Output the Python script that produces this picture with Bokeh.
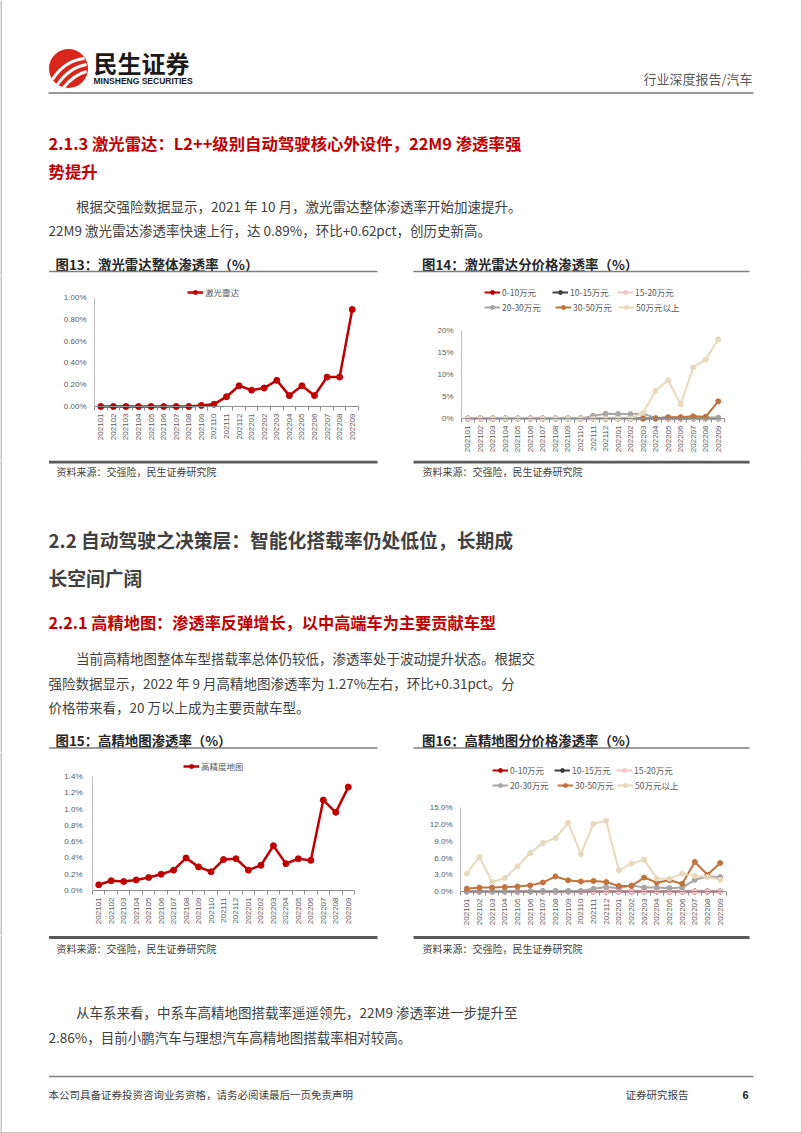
from math import pi
from bokeh.plotting import figure
from bokeh.models import Range1d, FixedTicker, PrintfTickFormatter, Span, Legend, LegendItem, Spacer
from bokeh.layouts import column, row
from bokeh.core.properties import value
from bokeh.embed import file_html
from bokeh.resources import INLINE

CJK = "Noto Sans CJK SC"
NUM = "Liberation Sans"
BORDER = "#8c8c8c"
PAGE_W = 802

# ---------------- data ----------------
months = ["202101", "202102", "202103", "202104", "202105", "202106", "202107",
          "202108", "202109", "202110", "202111", "202112", "202201", "202202",
          "202203", "202204", "202205", "202206", "202207", "202208", "202209"]

# Fig 13: lidar overall penetration (%)
lidar_total = [0, 0, 0, 0, 0, 0, 0, 0, 0.01, 0.02, 0.09, 0.19, 0.15, 0.17,
               0.24, 0.10, 0.19, 0.10, 0.27, 0.27, 0.89]

# Fig 14: lidar penetration by price band (%)
band_labels = ["0-10万元", "10-15万元", "15-20万元", "20-30万元", "30-50万元", "50万元以上"]
band_colors = ["#c00000", "#404040", "#f2c6c6", "#a6a6a6", "#c0733c", "#e8d9bc"]
lidar_0_10 = [0, 0, 0, 0, 0, 0, 0, 0, 0, 0, 0, 0, 0, 0, 0, 0, 0, 0, 0, 0, 0]
lidar_10_15 = [0, 0, 0, 0, 0, 0, 0, 0, 0, 0, 0, 0, 0, 0, 0, 0, 0, 0, 0, 0, 0]
lidar_15_20 = [0, 0, 0, 0, 0, 0, 0, 0, 0, 0, 0, 0, 0, 0, 0, 0, 0, 0, 0, 0, 0]
lidar_20_30 = [0, 0, 0, 0, 0, 0, 0, 0, 0, 0, 0.6, 1.1, 1.0, 1.0, 1.1, 0.1, 0.2, 0.2, 0.3, 0.2, 0.2]
lidar_30_50 = [0, 0, 0, 0, 0, 0, 0, 0, 0, 0, 0, 0, 0, 0, 0, 0, 0.3, 0.3, 0.5, 0.4, 3.9]
lidar_50_up = [0, 0, 0, 0, 0, 0, 0, 0, 0, 0, 0, 0, 0, 0, 1.3, 6.3, 8.7, 3.2, 11.6, 13.4, 18.0]

# Fig 15: HD map overall penetration (%)
hdmap_total = [0.07, 0.12, 0.11, 0.13, 0.16, 0.20, 0.25, 0.40, 0.29, 0.23, 0.38,
               0.39, 0.25, 0.31, 0.55, 0.33, 0.39, 0.37, 1.11, 0.96, 1.27]

# Fig 16: HD map penetration by price band (%)
hdmap_0_10 = [0, 0, 0, 0, 0, 0, 0, 0, 0, 0, 0, 0, 0, 0, 0, 0, 0, 0, 0, 0, 0]
hdmap_10_15 = [0, 0, 0, 0, 0, 0, 0, 0, 0, 0, 0, 0, 0, 0, 0, 0, 0, 0, 0, 0, 0]
hdmap_15_20 = [0, 0, 0, 0, 0, 0, 0, 0, 0, 0, 0, 0, 0, 0, 0, 0, 0, 0, 0, 0, 0]
hdmap_20_30 = [0, 0, 0, 0, 0, 0, 0.1, 0.1, 0.1, 0.1, 0.5, 0.8, 0.6, 1.1, 0.7, 0.7,
               0.6, 0.7, 2.1, 2.7, 2.6]
hdmap_30_50 = [0.5, 0.7, 0.7, 0.8, 0.9, 1.1, 1.6, 2.7, 2.0, 1.8, 1.9, 1.7, 1.0, 1.0,
               2.5, 1.6, 2.0, 1.4, 5.3, 3.0, 5.1]
hdmap_50_up = [3.2, 6.2, 1.7, 2.4, 4.5, 6.9, 8.7, 9.6, 12.3, 6.7, 12.1, 12.7, 3.8, 5.0,
               5.7, 2.3, 2.3, 3.2, 2.8, 2.6, 2.1]

lidar_ticks = [0, 0.2, 0.4, 0.6, 0.8, 1.0]
lidar_band_ticks = [0, 5, 10, 15, 20]
hdmap_ticks = [0, 0.2, 0.4, 0.6, 0.8, 1.0, 1.2, 1.4]
hdmap_band_ticks = [0, 3, 6, 9, 12, 15]


# ---------------- helpers ----------------
def text_fig(y0, y1):
    p = figure(width=PAGE_W, height=y1 - y0, x_range=Range1d(0, PAGE_W),
               y_range=Range1d(y1, y0), x_axis_type=None, y_axis_type=None,
               output_backend="svg", toolbar_location=None, min_border=0)
    p.outline_line_color = None
    p.segment(x0=[0.5, PAGE_W - 0.5], y0=[y0, y0], x1=[0.5, PAGE_W - 0.5], y1=[y1, y1],
              line_color=BORDER, line_width=1)
    return p


def put(p, x, y, s, size, color="#404040", bold=False, align="left", font=CJK):
    p.text(x=[x], y=[y], text=[s], text_font=value(font), text_font_size=size,
           text_color=color, text_font_style="bold" if bold else "normal",
           text_align=align, text_baseline="middle")


def hline(p, x0, x1, y, color, w):
    p.segment(x0=[x0], y0=[y], x1=[x1], y1=[y], line_color=color, line_width=w)


def side_fig(w, h, xline):
    p = figure(width=w, height=h, x_range=Range1d(0, w), y_range=Range1d(0, h),
               x_axis_type=None, y_axis_type=None, output_backend="svg",
               toolbar_location=None, min_border=0)
    p.outline_line_color = None
    p.segment(x0=[xline], y0=[0], x1=[xline], y1=[h], line_color=BORDER, line_width=1)
    return p


GAP = 4      # px between zero line and frame bottom (room for markers)
TOP_B = 6    # common top border
BOT_B = 38   # common bottom border (room for rotated month labels)


def chart(fx0, fx1, ptop, pzero, ref_px, ref_val, px0, px1, yticks, fmt, ystand=8):
    n = len(months)
    ppu = (pzero - ref_px) / ref_val
    fy0 = ptop - TOP_B
    fy1 = pzero + GAP + BOT_B
    p = figure(width=fx1 - fx0, height=fy1 - fy0,
               x_range=Range1d(-0.5, n - 0.5),
               y_range=Range1d(-GAP / ppu, (pzero - ptop) / ppu),
               output_backend="svg", toolbar_location=None,
               min_border_left=px0 - fx0, min_border_right=fx1 - px1,
               min_border_top=TOP_B, min_border_bottom=BOT_B)
    p.outline_line_color = None
    p.grid.visible = False
    xa = p.xaxis[0]
    xa.ticker = FixedTicker(ticks=list(range(n)), minor_ticks=[i - 0.5 for i in range(n + 1)])
    xa.major_label_overrides = {i: m for i, m in enumerate(months)}
    xa.major_label_orientation = pi / 2
    xa.axis_line_color = None
    xa.major_tick_line_color = None
    xa.major_tick_in = 0
    xa.major_tick_out = 0
    xa.minor_tick_in = GAP
    xa.minor_tick_out = 0
    xa.minor_tick_line_color = "#8c8c8c"
    xa.major_label_standoff = 3
    xa.major_label_text_font = NUM
    xa.major_label_text_font_size = "8px"
    xa.major_label_text_color = "#595959"
    ya = p.yaxis[0]
    ya.ticker = FixedTicker(ticks=yticks)
    ya.formatter = PrintfTickFormatter(format=fmt)
    ya.bounds = (0, yticks[-1])
    ya.axis_line_color = "#bfbfbf"
    ya.major_tick_line_color = None
    ya.minor_tick_line_color = None
    ya.major_tick_in = 0
    ya.major_tick_out = 0
    ya.major_label_standoff = ystand
    ya.major_label_text_font = NUM
    ya.major_label_text_font_size = "8px"
    ya.major_label_text_color = "#595959"
    p.add_layout(Span(location=0, dimension="width", line_color="#8c8c8c", line_width=1))
    p._geom = (px0, pzero + GAP, fy0, fy1)
    return p


def series(p, ys, color, lw, ms):
    xs = list(range(len(months)))
    r1 = p.line(xs, ys, line_color=color, line_width=lw)
    r2 = p.scatter(xs, ys, marker="circle", size=ms, fill_color=color, line_color=color)
    return [r1, r2]


def legend_item(p, rends, label, gx, gy):
    px0, pbot = p._geom[0], p._geom[1]
    leg = Legend(items=[LegendItem(label=label, renderers=rends)],
                 location=(gx - px0, pbot - (gy + 5)), orientation="horizontal",
                 padding=0, margin=0, spacing=0, glyph_width=16, glyph_height=10,
                 label_height=10, label_standoff=2, label_text_font_size="8.5px",
                 label_text_font=CJK, label_text_color="#595959",
                 border_line_color=None, background_fill_alpha=0)
    p.add_layout(leg)


def placed(p, row_y0, row_y1):
    """Wrap a chart in a column with spacers so it sits at its page position."""
    fy0, fy1 = p._geom[2], p._geom[3]
    kids = []
    if fy0 > row_y0:
        kids.append(Spacer(width=p.width, height=fy0 - row_y0))
    kids.append(p)
    if row_y1 > fy1:
        kids.append(Spacer(width=p.width, height=row_y1 - fy1))
    return column(*kids)


# ---------------- section A (0-275) ----------------
A = text_fig(0, 275)
A.circle(x=[68], y=[68], radius=19.5, fill_color="#d9261c", line_color=None)
A.quadratic(x0=[52, 57, 63], y0=[79, 84, 87], x1=[84, 86, 86], y1=[58, 64, 71],
            cx=[64, 69, 74], cy=[60, 67, 74], line_color="white", line_width=3)
put(A, 93, 62, "民生证券", "24px", "#1a1a1a", bold=True)
put(A, 93, 80.5, "MINSHENG SECURITIES", "8.5px", "#1a1a1a", bold=True, font="Liberation Sans")
put(A, 752, 78, "行业深度报告/汽车", "13px", "#595959", align="right")
hline(A, 48, 753, 92.5, "#999999", 2)
put(A, 48, 142, "2.1.3 激光雷达：L2++级别自动驾驶核心外设件，22M9 渗透率强", "16.4px", "#c00000", bold=True)
put(A, 48, 170, "势提升", "16.4px", "#c00000", bold=True)
put(A, 75.5, 205.5, "根据交强险数据显示，2021 年 10 月，激光雷达整体渗透率开始加速提升。", "13.5px", "#404040")
put(A, 48, 229.5, "22M9 激光雷达渗透率快速上行，达 0.89%，环比+0.62pct，创历史新高。", "13.5px", "#404040")
put(A, 55, 263.5, "图13：激光雷达整体渗透率（%）", "13.4px", "#262626", bold=True)
put(A, 421.5, 263.5, "图14：激光雷达分价格渗透率（%）", "13.4px", "#262626", bold=True)
hline(A, 48.5, 377, 271, "#7f7f7f", 1.5)
hline(A, 413, 749, 271, "#7f7f7f", 1.5)

# ---------------- row B (275-460): charts 13 & 14 ----------------
RB0, RB1 = 275, 460
c13 = chart(48, 378, 283, 406, 297, 1.0, 94, 358, lidar_ticks, "%.2f%%", 8)
r = series(c13, lidar_total, "#c00000", 2.5, 6)
legend_item(c13, r, "激光雷达", 187, 292.7)

c14 = chart(413, 750, 283, 418, 330, 20, 461, 724, lidar_band_ticks, "%d%%", 8)
lidar_bands = [lidar_0_10, lidar_10_15, lidar_15_20, lidar_20_30, lidar_30_50, lidar_50_up]
leg_pos14 = [(484, 292.7), (552, 292.7), (617, 292.7), (484, 308.3), (555, 308.3), (618, 308.3)]
for ys, col, lab, (gx, gy) in zip(lidar_bands, band_colors, band_labels, leg_pos14):
    rr = series(c14, ys, col, 2, 5)
    legend_item(c14, rr, lab, gx, gy)

rowB = row(side_fig(48, RB1 - RB0, 0.5), placed(c13, RB0, RB1),
           Spacer(width=35, height=RB1 - RB0), placed(c14, RB0, RB1),
           side_fig(52, RB1 - RB0, 51.5))

# ---------------- section C (460-752) ----------------
C = text_fig(460, 752)
hline(C, 48.5, 377, 461.5, "#595959", 3)
hline(C, 413, 749, 461.5, "#595959", 3)
put(C, 56, 471, "资料来源：交强险，民生证券研究院", "10px", "#404040")
put(C, 422, 471, "资料来源：交强险，民生证券研究院", "10px", "#404040")
put(C, 48, 539, "2.2 自动驾驶之决策层：智能化搭载率仍处低位，长期成", "18.8px", "#404040", bold=True)
put(C, 48, 577, "长空间广阔", "18.8px", "#404040", bold=True)
put(C, 48, 621, "2.2.1 高精地图：渗透率反弹增长，以中高端车为主要贡献车型", "16.2px", "#c00000", bold=True)
put(C, 75.5, 657, "当前高精地图整体车型搭载率总体仍较低，渗透率处于波动提升状态。根据交", "13.5px", "#404040")
put(C, 48, 682.5, "强险数据显示，2022 年 9 月高精地图渗透率为 1.27%左右，环比+0.31pct。分", "13.5px", "#404040")
put(C, 48, 706, "价格带来看，20 万以上成为主要贡献车型。", "13.5px", "#404040")
put(C, 55, 739.5, "图15：高精地图渗透率（%）", "13.4px", "#262626", bold=True)
put(C, 421.5, 739.5, "图16：高精地图分价格渗透率（%）", "13.4px", "#262626", bold=True)
hline(C, 48.5, 377, 747.5, "#7f7f7f", 1.5)
hline(C, 413, 749, 747.5, "#7f7f7f", 1.5)

# ---------------- row D (752-935): charts 15 & 16 ----------------
RD0, RD1 = 752, 935
c15 = chart(48, 378, 758, 890, 776, 1.4, 92, 354, hdmap_ticks, "%.1f%%", 10)
r = series(c15, hdmap_total, "#c00000", 2.5, 6)
legend_item(c15, r, "高精度地图", 183, 766.7)

c16 = chart(413, 750, 758, 891, 807.3, 15, 460, 726, hdmap_band_ticks, "%.1f%%", 8)
hd_bands = [hdmap_0_10, hdmap_10_15, hdmap_15_20, hdmap_20_30, hdmap_30_50, hdmap_50_up]
leg_pos16 = [(492, 770.7), (554, 770.7), (616, 770.7), (492, 785.7), (557, 785.7), (617, 785.7)]
for ys, col, lab, (gx, gy) in zip(hd_bands, band_colors, band_labels, leg_pos16):
    rr = series(c16, ys, col, 2, 5)
    legend_item(c16, rr, lab, gx, gy)

rowD = row(side_fig(48, RD1 - RD0, 0.5), placed(c15, RD0, RD1),
           Spacer(width=35, height=RD1 - RD0), placed(c16, RD0, RD1),
           side_fig(52, RD1 - RD0, 51.5))

# ---------------- section E (935-1133) ----------------
E = text_fig(935, 1133)
hline(E, 48.5, 377, 937, "#595959", 3)
hline(E, 413, 749, 937, "#595959", 3)
put(E, 56, 947.5, "资料来源：交强险，民生证券研究院", "10px", "#404040")
put(E, 422, 947.5, "资料来源：交强险，民生证券研究院", "10px", "#404040")
put(E, 75.5, 1011, "从车系来看，中系车高精地图搭载率遥遥领先，22M9  渗透率进一步提升至", "13.5px", "#404040")
put(E, 48, 1036, "2.86%，目前小鹏汽车与理想汽车高精地图搭载率相对较高。", "13.5px", "#404040")
hline(E, 48.5, 753, 1076, "#7f7f7f", 1.5)
put(E, 48, 1094, "本公司具备证券投资咨询业务资格，请务必阅读最后一页免责声明", "10.5px", "#404040")
put(E, 625, 1094, "证券研究报告", "10.5px", "#404040")
put(E, 742, 1094, "6", "11px", "#262626", bold=True, font="Liberation Sans")
hline(E, 0, PAGE_W, 1132.5, BORDER, 1)

page = column(A, rowB, C, rowD, E)

open("out.html", "w").write(file_html(page, INLINE))
